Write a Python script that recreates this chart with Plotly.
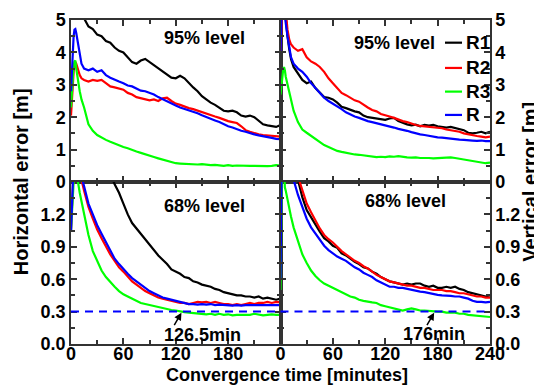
import plotly.graph_objects as go
from plotly.subplots import make_subplots

# ---------------- data ----------------
T = [0, 1, 2, 3, 4, 5, 6, 8, 10, 12, 15,
     20, 25, 30, 35, 40, 45, 50, 55, 60, 65, 70, 75, 80, 85, 90, 95, 100, 105, 110, 115,
     120, 125, 130, 135, 140, 145, 150, 155, 160, 165, 170, 175, 180, 185, 190, 195, 200,
     205, 210, 215, 220, 225, 230, 235, 240]

SERIES_NAMES = ["R1", "R2", "R3", "R"]
SERIES_COLORS = ["#000000", "#ff0000", "#00ff00", "#0000ff"]

# Horizontal error, 95% level
H95_R1 = [5.6, 6.0, 6.4, 6.6, 6.6, 6.5, 6.3, 6.0, 5.7, 5.4, 5.05,
          4.8, 4.72, 4.55, 4.5, 4.35, 4.3, 4.15, 4.05, 4.0, 3.85,
          3.7, 3.65, 3.75, 3.8, 3.7, 3.6, 3.5, 3.4, 3.3, 3.22,
          3.2, 3.28, 3.2, 3.05, 2.92, 2.8, 2.65, 2.55, 2.45, 2.38,
          2.3, 2.2, 2.18, 2.2, 2.15, 2.05, 2.02, 2.05, 2.0, 1.88,
          1.78, 1.75, 1.72, 1.7, 1.76]
H95_R2 = [2.05, 2.6, 3.1, 3.4, 3.6, 3.7, 3.65, 3.45, 3.3, 3.2, 3.15,
          3.1, 3.15, 3.12, 3.15, 3.05, 2.95, 2.92, 2.88, 2.85, 2.75,
          2.7, 2.62, 2.58, 2.55, 2.52, 2.55, 2.5, 2.58, 2.6, 2.5,
          2.42, 2.38, 2.32, 2.28, 2.25, 2.2, 2.15, 2.1, 2.05, 2.02,
          1.98, 1.92, 1.88, 1.85, 1.82, 1.72, 1.6, 1.55, 1.5, 1.47,
          1.45, 1.44, 1.42, 1.43, 1.4]
H95_R3 = [2.3, 2.9, 3.3, 3.6, 3.72, 3.75, 3.5, 3.1, 2.8, 2.55, 2.3,
          1.78, 1.58, 1.45, 1.37, 1.3, 1.24, 1.18, 1.13, 1.08, 1.04,
          0.98, 0.94, 0.9, 0.85, 0.81, 0.77, 0.73, 0.69, 0.65, 0.61,
          0.58, 0.57, 0.56, 0.57, 0.55, 0.54, 0.55, 0.53, 0.52, 0.53,
          0.51, 0.5, 0.52, 0.5, 0.51, 0.5, 0.49, 0.5, 0.5, 0.49,
          0.5, 0.49, 0.5, 0.52, 0.51]
H95_R = [2.8, 3.5, 4.2, 4.5, 4.7, 4.72, 4.6, 4.3, 3.95, 3.65, 3.5,
         3.45, 3.5, 3.4, 3.45, 3.3, 3.22, 3.15, 3.1, 3.05, 2.98,
         2.95, 2.88, 2.82, 2.8, 2.75, 2.7, 2.62, 2.55, 2.48, 2.42,
         2.36, 2.3, 2.26, 2.2, 2.16, 2.12, 2.06, 2.0, 1.95, 1.9,
         1.85, 1.78, 1.72, 1.68, 1.62, 1.58, 1.55, 1.5, 1.47, 1.44,
         1.42, 1.38, 1.36, 1.33, 1.32]

# Vertical error, 95% level
V95_R1 = [4.5, 6.0, 6.5, 6.0, 5.6, 5.3, 5.0, 4.5, 4.1, 3.8, 3.55,
          3.35, 3.15, 3.05, 3.1, 2.9, 2.75, 2.62, 2.6, 2.55, 2.45,
          2.32, 2.28, 2.22, 2.18, 2.15, 2.05, 2.0, 1.98, 1.95, 1.92,
          1.92, 1.96, 1.98, 1.88, 1.82, 1.78, 1.75, 1.77, 1.72, 1.76,
          1.74, 1.76, 1.72, 1.7, 1.68, 1.7, 1.67, 1.62, 1.6, 1.52,
          1.5, 1.52, 1.55, 1.5, 1.55]
V95_R2 = [4.0, 5.2, 6.0, 6.0, 5.8, 5.6, 5.3, 4.7, 4.4, 4.25, 4.15,
          4.05, 4.1, 3.85, 3.72, 3.65, 3.55, 3.4, 3.2, 3.05, 2.9,
          2.75, 2.68, 2.6, 2.52, 2.48, 2.38, 2.3, 2.22, 2.18, 2.1,
          2.05, 2.02, 1.98, 1.92, 1.88, 1.85, 1.8, 1.76, 1.73, 1.72,
          1.7, 1.68, 1.67, 1.66, 1.62, 1.6, 1.58, 1.55, 1.5, 1.47,
          1.43, 1.42, 1.4, 1.38, 1.4]
V95_R3 = [2.7, 3.0, 3.3, 3.45, 3.55, 3.45, 3.25, 3.0, 2.75, 2.48, 2.2,
          1.85, 1.62, 1.52, 1.42, 1.32, 1.22, 1.14, 1.08, 1.02, 0.96,
          0.93, 0.9, 0.88, 0.85, 0.84, 0.82, 0.8, 0.79, 0.77, 0.78,
          0.77, 0.79, 0.78, 0.8, 0.77, 0.76, 0.75, 0.76, 0.74, 0.75,
          0.74, 0.73, 0.74, 0.75, 0.74, 0.76, 0.74, 0.72, 0.7, 0.67,
          0.65, 0.63, 0.6, 0.58, 0.6]
V95_R = [4.0, 5.5, 6.0, 5.8, 5.4, 5.1, 4.9, 4.5, 4.1, 3.85, 3.65,
         3.5, 3.4, 3.25, 3.05, 2.9, 2.72, 2.6, 2.5, 2.42, 2.35,
         2.25, 2.15, 2.08, 2.02, 1.98, 1.92, 1.88, 1.85, 1.82, 1.78,
         1.76, 1.72, 1.68, 1.64, 1.62, 1.58, 1.54, 1.5, 1.47, 1.45,
         1.42, 1.4, 1.38, 1.37, 1.35, 1.33, 1.32, 1.31, 1.3, 1.3,
         1.28, 1.27, 1.28, 1.26, 1.26]

# Horizontal error, 68% level
H68_R1 = [2.0, 2.5, 3.0, 3.2, 3.3, 3.3, 3.2, 3.0, 2.85, 2.7, 2.5,
          2.25, 2.05, 1.9, 1.78, 1.66, 1.57, 1.48, 1.4, 1.3, 1.2,
          1.12, 1.07, 1.02, 0.97, 0.92, 0.86, 0.82, 0.78, 0.74, 0.69,
          0.67, 0.65, 0.62, 0.61, 0.58, 0.57, 0.55, 0.54, 0.53, 0.51,
          0.5, 0.48, 0.47, 0.46, 0.45, 0.45, 0.44, 0.44, 0.43, 0.44,
          0.42, 0.43, 0.42, 0.41, 0.42]
H68_R2 = [1.05, 1.4, 1.7, 1.9, 2.0, 2.0, 1.95, 1.8, 1.65, 1.52, 1.42,
          1.27, 1.16, 1.06, 0.98, 0.9, 0.83, 0.77, 0.71, 0.67, 0.62,
          0.58, 0.55, 0.52, 0.49, 0.47, 0.45, 0.43, 0.42, 0.41, 0.4,
          0.39, 0.38, 0.38, 0.37, 0.38, 0.39, 0.385, 0.39, 0.38, 0.39,
          0.38, 0.37, 0.37, 0.36, 0.37, 0.36, 0.37, 0.38, 0.37, 0.38,
          0.38, 0.39, 0.38, 0.39, 0.385]
H68_R3 = [1.05, 1.3, 1.55, 1.7, 1.8, 1.8, 1.7, 1.5, 1.4, 1.32, 1.2,
          1.01, 0.86, 0.77, 0.68, 0.62, 0.57, 0.53, 0.49, 0.46, 0.44,
          0.42, 0.4, 0.38, 0.37, 0.36, 0.35, 0.34, 0.33, 0.32, 0.315,
          0.31, 0.3, 0.295, 0.29, 0.285, 0.28, 0.28, 0.275, 0.28, 0.27,
          0.28, 0.27, 0.275, 0.265, 0.27, 0.27, 0.275, 0.27, 0.28, 0.27,
          0.265, 0.27, 0.275, 0.27, 0.27]
H68_R = [1.05, 1.45, 1.8, 2.0, 2.1, 2.1, 2.05, 1.9, 1.75, 1.55, 1.46,
         1.3, 1.2, 1.1, 1.02, 0.94, 0.86, 0.79, 0.74, 0.69, 0.65,
         0.61, 0.58, 0.55, 0.52, 0.49, 0.47, 0.45, 0.43, 0.42, 0.41,
         0.4, 0.39, 0.38, 0.37, 0.37, 0.365, 0.37, 0.365, 0.37, 0.36,
         0.365, 0.36, 0.36, 0.355, 0.36, 0.355, 0.36, 0.36, 0.365, 0.36,
         0.36, 0.365, 0.36, 0.36, 0.36]

# Vertical error, 68% level
V68_R1 = [0.6, 1.6, 2.5, 2.9, 3.0, 2.95, 2.8, 2.55, 2.3, 2.1, 1.8,
          1.52, 1.36, 1.24, 1.17, 1.1, 1.04, 0.98, 0.95, 0.91, 0.89,
          0.84, 0.82, 0.79, 0.76, 0.74, 0.71, 0.7, 0.67, 0.65, 0.62,
          0.6, 0.58, 0.57, 0.56, 0.55, 0.56, 0.55, 0.56, 0.56, 0.54,
          0.53, 0.54, 0.52, 0.52, 0.53, 0.52, 0.53, 0.51, 0.5, 0.48,
          0.47, 0.46, 0.45, 0.44, 0.45]
V68_R2 = [0.6, 1.6, 2.5, 2.8, 2.9, 2.85, 2.75, 2.5, 2.3, 2.1, 1.85,
          1.55, 1.43, 1.3, 1.22, 1.14, 1.07, 1.01, 0.97, 0.94, 0.9,
          0.86, 0.83, 0.8, 0.77, 0.75, 0.72, 0.7, 0.67, 0.64, 0.62,
          0.6, 0.58, 0.57, 0.56, 0.55, 0.54, 0.54, 0.53, 0.52, 0.52,
          0.51, 0.5, 0.5, 0.5, 0.49, 0.49, 0.48, 0.47, 0.47, 0.46,
          0.45, 0.44, 0.44, 0.43, 0.43]
V68_R3 = [0.5, 1.2, 1.8, 1.9, 1.55, 1.45, 1.42, 1.33, 1.25, 1.18, 1.08,
          0.95, 0.83, 0.75, 0.68, 0.63, 0.59, 0.56, 0.54, 0.52, 0.5,
          0.48, 0.46, 0.44, 0.43, 0.41, 0.4, 0.39, 0.385, 0.38, 0.36,
          0.35, 0.34, 0.33, 0.32, 0.31, 0.32, 0.33, 0.32, 0.31, 0.31,
          0.305, 0.3, 0.3, 0.3, 0.29, 0.29, 0.29, 0.28, 0.28, 0.27,
          0.265, 0.26, 0.255, 0.25, 0.25]
V68_R = [0.6, 1.5, 2.2, 2.4, 2.4, 2.3, 2.2, 2.0, 1.85, 1.72, 1.52,
         1.38, 1.26, 1.16, 1.08, 1.02, 0.96, 0.91, 0.87, 0.84, 0.81,
         0.79, 0.77, 0.74, 0.71, 0.69, 0.66, 0.64, 0.62, 0.59, 0.57,
         0.55, 0.53, 0.53, 0.52, 0.52, 0.51, 0.5, 0.49, 0.485, 0.48,
         0.47, 0.46, 0.455, 0.45, 0.45, 0.445, 0.44, 0.44, 0.43, 0.42,
         0.4, 0.39, 0.39, 0.385, 0.39]

THRESHOLD = 0.3
CONV_H = 126.5
CONV_V = 176

# ---------------- figure ----------------
# The page body has an 8px margin, so the figure is 8px smaller each way.
FONT = "Liberation Sans, Arial, sans-serif"
fig = make_subplots(rows=2, cols=2, horizontal_spacing=0, vertical_spacing=0)

panels = [
    (1, 1, [H95_R1, H95_R2, H95_R3, H95_R]),
    (1, 2, [V95_R1, V95_R2, V95_R3, V95_R]),
    (2, 1, [H68_R1, H68_R2, H68_R3, H68_R]),
    (2, 2, [V68_R1, V68_R2, V68_R3, V68_R]),
]
for pi, (r, c, ser) in enumerate(panels):
    for name, color, vals in zip(SERIES_NAMES, SERIES_COLORS, ser):
        fig.add_trace(go.Scatter(x=T, y=vals, mode="lines", name=name,
                                 line=dict(color=color, width=2.2),
                                 showlegend=False),
                      row=r, col=c)

axis_common = dict(showline=True, linecolor="#333333", linewidth=1.5, mirror="ticks",
                   ticks="inside", ticklen=6, tickwidth=1.5, tickcolor="#333333",
                   showgrid=False, zeroline=False, automargin=False,
                   tickfont=dict(family=FONT, size=18, color="black", weight="bold"))

for ax, tv in (("xaxis", [0, 60, 120, 180]), ("xaxis2", [0, 60, 120, 180, 240]),
               ("xaxis3", [0, 60, 120, 180]), ("xaxis4", [0, 60, 120, 180, 240])):
    show = ax in ("xaxis3", "xaxis4")
    fig.layout[ax].update(range=[0, 240], tickmode="array", tickvals=tv,
                          showticklabels=show, ticklabelstandoff=-7,
                          minor=dict(dtick=30, tick0=0, ticks="inside", ticklen=4,
                                     tickwidth=1.5, tickcolor="#333333"),
                          **axis_common)

for ax, side in (("yaxis", "left"), ("yaxis2", "right")):
    fig.layout[ax].update(range=[0, 5], tickmode="array", tickvals=[0, 1, 2, 3, 4, 5],
                          side=side,
                          minor=dict(dtick=0.5, tick0=0, ticks="inside", ticklen=4,
                                     tickwidth=1.5, tickcolor="#333333"),
                          **axis_common)
for ax, side in (("yaxis3", "left"), ("yaxis4", "right")):
    fig.layout[ax].update(range=[0, 1.5], tickmode="array",
                          tickvals=[0, 0.3, 0.6, 0.9, 1.2], tickformat=".1f",
                          side=side,
                          minor=dict(dtick=0.15, tick0=0, ticks="inside", ticklen=4,
                                     tickwidth=1.5, tickcolor="#333333"),
                          **axis_common)

# threshold dashed lines
for xr, yr in (("x3", "y3"), ("x4", "y4")):
    fig.add_shape(type="line", xref=f"{xr} domain", yref=yr, x0=0, x1=1,
                  y0=THRESHOLD, y1=THRESHOLD,
                  line=dict(color="#0000ff", width=2, dash="8px,6px"))

# manual legend (inside the top-right panel)
LEG_Y = [0.930, 0.852, 0.779, 0.707]
for name, color, ly in zip(SERIES_NAMES, SERIES_COLORS, LEG_Y):
    fig.add_shape(type="line", xref="paper", yref="paper", x0=0.8926, x1=0.9332,
                  y0=ly, y1=ly, line=dict(color=color, width=2.2))

lbl = dict(family=FONT, size=18, color="black", weight="bold")
big = dict(family=FONT, size=18, color="black", weight="bold")
ann = [
    dict(x=153, y=4.44, xref="x", yref="y", text="95% level", showarrow=False, font=lbl),
    dict(x=131, y=4.3, xref="x2", yref="y2", text="95% level", showarrow=False, font=lbl),
    dict(x=153, y=1.28, xref="x3", yref="y3", text="68% level", showarrow=False, font=lbl),
    dict(x=143, y=1.32, xref="x4", yref="y4", text="68% level", showarrow=False, font=lbl),
    dict(x=151, y=0.085, xref="x3", yref="y3", text="126.5min", showarrow=False, font=lbl),
    dict(x=176, y=0.095, xref="x4", yref="y4", text="176min", showarrow=False, font=lbl),
    dict(x=CONV_H, y=THRESHOLD - 0.01, xref="x3", yref="y3", text="", showarrow=True,
         ax=-8, ay=14, arrowhead=2, arrowsize=1, arrowwidth=1.5, arrowcolor="black"),
    dict(x=CONV_V, y=THRESHOLD - 0.01, xref="x4", yref="y4", text="", showarrow=True,
         ax=-8, ay=14, arrowhead=2, arrowsize=1, arrowwidth=1.5, arrowcolor="black"),
    dict(x=0.516, y=-0.095, xref="paper", yref="paper", text="Convergence time [minutes]",
         xanchor="center", yanchor="middle", showarrow=False, font=big),
    dict(x=-0.119, y=0.5, xref="paper", yref="paper", text="Horizontal error [m]",
         xanchor="center", yanchor="middle", textangle=-90, showarrow=False,
         font=dict(family=FONT, size=20, color="black", weight="bold")),
    dict(x=1.095, y=0.5, xref="paper", yref="paper", text="Vertical error [m]",
         xanchor="center", yanchor="middle", textangle=-90, showarrow=False,
         font=dict(family=FONT, size=20, color="black", weight="bold")),
]
for name, ly in zip(SERIES_NAMES, LEG_Y):
    ann.append(dict(x=0.938, y=ly, xref="paper", yref="paper", text=name,
                    xanchor="left", yanchor="middle", showarrow=False,
                    font=dict(family=FONT, size=19, color="black", weight="bold")))
fig.update_layout(annotations=ann)

fig.update_layout(
    width=534, height=377,
    margin=dict(l=63, r=52, t=12, b=41),
    paper_bgcolor="white", plot_bgcolor="white",
    font=dict(family=FONT, color="black"),
    showlegend=False,
)
fig.write_html("out.html")
